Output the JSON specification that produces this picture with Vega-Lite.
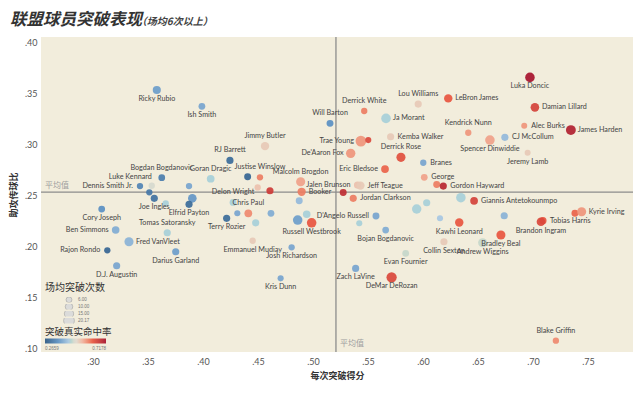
{
  "$schema": "https://vega.github.io/schema/vega-lite/v6.json",
  "width": 592,
  "height": 315,
  "autosize": {"type": "none"},
  "padding": {"left": 41, "top": 37, "right": 7, "bottom": 41},
  "background": "#ffffff",
  "config": {
    "view": {"fill": "#f2eddc", "stroke": null},
    "axis": {"grid": false, "domain": false, "ticks": false, "labelFont": "Lato", "labelFontSize": 9, "labelColor": "#555555", "titleFont": "Noto Sans CJK SC", "titleFontSize": 9, "titleFontWeight": "bold", "titleColor": "#333333"},
    "axisX": {"labelPadding": 5, "titlePadding": 5},
    "axisY": {"labelPadding": 4, "titlePadding": 6}
  },
  "title": {
    "text": "联盟球员突破表现",
    "subtitle": "\u200b\u3000\u3000\u3000\u3000\u3000\u3000\u3000\u3000\u3000\u3000\u3000\u3000\u00a0\u00a0\u00a0（场均6次以上）",
    "anchor": "start",
    "frame": "group",
    "dx": -31,
    "offset": 8,
    "font": "Noto Sans CJK SC",
    "fontSize": 16.5,
    "fontWeight": "bold",
    "fontStyle": "italic",
    "color": "#333333",
    "subtitleFont": "Noto Sans CJK SC",
    "subtitleFontSize": 10,
    "subtitleFontWeight": "bold",
    "subtitleFontStyle": "italic",
    "subtitleColor": "#444444",
    "subtitlePadding": -11
  },
  "datasets": {
    "refs": [
      {"kind": "h", "x": 0.2527, "y": 0.2529, "label": "平均值"},
      {"kind": "v", "x": 0.5209, "y": 0.0985, "label": "平均值"}
    ],
    "players": [
      {"name": "Tobias Harris", "x": 0.7091, "y": 0.2249, "drives": 9, "ts": 0.62, "side": "right"},
      {"name": "Ricky Rubio", "x": 0.358, "y": 0.353, "drives": 11.5, "ts": 0.38, "side": "below"},
      {"name": "Ish Smith", "x": 0.399, "y": 0.337, "drives": 8, "ts": 0.39, "side": "below"},
      {"name": "RJ Barrett", "x": 0.4245, "y": 0.284, "drives": 9, "ts": 0.3, "side": "above"},
      {"name": "Goran Dragic", "x": 0.407, "y": 0.266, "drives": 10.5, "ts": 0.45, "side": "above"},
      {"name": "Bogdan Bogdanovic", "x": 0.3625, "y": 0.267, "drives": 8, "ts": 0.33, "side": "above"},
      {"name": "Dennis Smith Jr.", "x": 0.3427, "y": 0.2588, "drives": 7, "ts": 0.34, "side": "left"},
      {"name": "Luke Kennard", "x": 0.3534, "y": 0.2591, "drives": 7, "ts": 0.48, "side": "aboveleft"},
      {"name": "", "x": 0.3873, "y": 0.2588, "drives": 7, "ts": 0.39, "side": "none"},
      {"name": "", "x": 0.3512, "y": 0.2527, "drives": 7, "ts": 0.32, "side": "none"},
      {"name": "Joe Ingles", "x": 0.3557, "y": 0.2468, "drives": 9, "ts": 0.31, "side": "below"},
      {"name": "", "x": 0.3661, "y": 0.2419, "drives": 7, "ts": 0.45, "side": "none"},
      {"name": "", "x": 0.3903, "y": 0.2468, "drives": 13, "ts": 0.37, "side": "none"},
      {"name": "Elfrid Payton", "x": 0.3873, "y": 0.2409, "drives": 9, "ts": 0.3, "side": "below"},
      {"name": "Cory Joseph", "x": 0.3079, "y": 0.2363, "drives": 8, "ts": 0.36, "side": "below"},
      {"name": "Ben Simmons", "x": 0.3206, "y": 0.2157, "drives": 10, "ts": 0.4, "side": "left"},
      {"name": "Tomas Satoransky", "x": 0.3675, "y": 0.213, "drives": 9, "ts": 0.45, "side": "above"},
      {"name": "Fred VanVleet", "x": 0.3327, "y": 0.2042, "drives": 14.5, "ts": 0.41, "side": "right"},
      {"name": "Rajon Rondo", "x": 0.313, "y": 0.1958, "drives": 7, "ts": 0.29, "side": "left"},
      {"name": "Darius Garland", "x": 0.3752, "y": 0.1944, "drives": 9, "ts": 0.38, "side": "below"},
      {"name": "D.J. Augustin", "x": 0.3215, "y": 0.1807, "drives": 9, "ts": 0.39, "side": "below"},
      {"name": "Terry Rozier", "x": 0.4215, "y": 0.2272, "drives": 9, "ts": 0.3, "side": "below"},
      {"name": "Delon Wright", "x": 0.4273, "y": 0.2428, "drives": 8, "ts": 0.45, "side": "above"},
      {"name": "", "x": 0.4312, "y": 0.2321, "drives": 6.5, "ts": 0.39, "side": "none"},
      {"name": "Jimmy Butler", "x": 0.4564, "y": 0.298, "drives": 12.5, "ts": 0.52, "side": "above"},
      {"name": "", "x": 0.4406, "y": 0.2679, "drives": 8.5, "ts": 0.29, "side": "none"},
      {"name": "Justise Winslow", "x": 0.4518, "y": 0.2674, "drives": 7, "ts": 0.59, "side": "above"},
      {"name": "", "x": 0.4497, "y": 0.2575, "drives": 7, "ts": 0.53, "side": "none"},
      {"name": "", "x": 0.4609, "y": 0.2542, "drives": 9, "ts": 0.66, "side": "none"},
      {"name": "Malcolm Brogdon", "x": 0.4888, "y": 0.263, "drives": 14.5, "ts": 0.56, "side": "above"},
      {"name": "Booker", "x": 0.4897, "y": 0.2532, "drives": 12, "ts": 0.59, "side": "right"},
      {"name": "Jalen Brunson", "x": 0.5405, "y": 0.2598, "drives": 9, "ts": 0.53, "side": "left"},
      {"name": "Jeff Teague", "x": 0.5432, "y": 0.2593, "drives": 12, "ts": 0.52, "side": "right"},
      {"name": "", "x": 0.5275, "y": 0.2526, "drives": 8.5, "ts": 0.68, "side": "none"},
      {"name": "Jordan Clarkson", "x": 0.5366, "y": 0.2468, "drives": 9, "ts": 0.59, "side": "right"},
      {"name": "Eric Bledsoe", "x": 0.5655, "y": 0.2755, "drives": 10.5, "ts": 0.61, "side": "left"},
      {"name": "Will Barton", "x": 0.5155, "y": 0.3203, "drives": 8.5, "ts": 0.36, "side": "above"},
      {"name": "Derrick White", "x": 0.5466, "y": 0.3324, "drives": 7, "ts": 0.59, "side": "above"},
      {"name": "Ja Morant", "x": 0.5664, "y": 0.3252, "drives": 16, "ts": 0.45, "side": "right"},
      {"name": "Trae Young", "x": 0.5436, "y": 0.3029, "drives": 20.17, "ts": 0.57, "side": "left"},
      {"name": "", "x": 0.5503, "y": 0.3039, "drives": 6.5, "ts": 0.64, "side": "none"},
      {"name": "Kemba Walker", "x": 0.5706, "y": 0.3072, "drives": 9, "ts": 0.52, "side": "right"},
      {"name": "De'Aaron Fox", "x": 0.5343, "y": 0.2909, "drives": 15.5, "ts": 0.57, "side": "left"},
      {"name": "Derrick Rose", "x": 0.58, "y": 0.287, "drives": 14.5, "ts": 0.63, "side": "above"},
      {"name": "Branes", "x": 0.6003, "y": 0.2817, "drives": 7, "ts": 0.39, "side": "right"},
      {"name": "George", "x": 0.6012, "y": 0.2674, "drives": 8, "ts": 0.56, "side": "right"},
      {"name": "", "x": 0.6125, "y": 0.2603, "drives": 8.5, "ts": 0.59, "side": "none"},
      {"name": "Gordon Hayward", "x": 0.6185, "y": 0.2588, "drives": 9, "ts": 0.69, "side": "right"},
      {"name": "D'Angelo Russell", "x": 0.5573, "y": 0.2294, "drives": 8.5, "ts": 0.39, "side": "left"},
      {"name": "", "x": 0.5421, "y": 0.2223, "drives": 6.5, "ts": 0.45, "side": "none"},
      {"name": "Bojan Bogdanovic", "x": 0.5661, "y": 0.2157, "drives": 8, "ts": 0.4, "side": "below"},
      {"name": "Evan Fournier", "x": 0.5843, "y": 0.1928, "drives": 8, "ts": 0.47, "side": "below"},
      {"name": "Zach LaVine", "x": 0.5388, "y": 0.1781, "drives": 9, "ts": 0.39, "side": "below"},
      {"name": "DeMar DeRozan", "x": 0.5715, "y": 0.1693, "drives": 18.5, "ts": 0.64, "side": "below"},
      {"name": "Kris Dunn", "x": 0.4706, "y": 0.1683, "drives": 6.5, "ts": 0.39, "side": "below"},
      {"name": "Emmanuel Mudiay", "x": 0.4452, "y": 0.2052, "drives": 7, "ts": 0.52, "side": "below"},
      {"name": "Josh Richardson", "x": 0.4806, "y": 0.1987, "drives": 7, "ts": 0.39, "side": "below"},
      {"name": "Chris Paul", "x": 0.4412, "y": 0.2321, "drives": 10.5, "ts": 0.58, "side": "above"},
      {"name": "", "x": 0.4479, "y": 0.2228, "drives": 9, "ts": 0.45, "side": "none"},
      {"name": "", "x": 0.4618, "y": 0.2321, "drives": 8, "ts": 0.4, "side": "none"},
      {"name": "", "x": 0.4875, "y": 0.2444, "drives": 8.5, "ts": 0.42, "side": "none"},
      {"name": "", "x": 0.4943, "y": 0.2311, "drives": 10, "ts": 0.45, "side": "none"},
      {"name": "", "x": 0.4861, "y": 0.2255, "drives": 16, "ts": 0.38, "side": "none"},
      {"name": "Russell Westbrook", "x": 0.4988, "y": 0.2228, "drives": 16, "ts": 0.62, "side": "below"},
      {"name": "", "x": 0.5943, "y": 0.2363, "drives": 15.5, "ts": 0.45, "side": "none"},
      {"name": "", "x": 0.6034, "y": 0.2425, "drives": 9, "ts": 0.45, "side": "none"},
      {"name": "", "x": 0.6155, "y": 0.2272, "drives": 6.5, "ts": 0.44, "side": "none"},
      {"name": "Kawhi Leonard", "x": 0.633, "y": 0.223, "drives": 12.5, "ts": 0.62, "side": "below"},
      {"name": "", "x": 0.6345, "y": 0.2474, "drives": 16, "ts": 0.45, "side": "none"},
      {"name": "Giannis Antetokounmpo", "x": 0.6465, "y": 0.2443, "drives": 10.5, "ts": 0.65, "side": "right"},
      {"name": "Lou Williams", "x": 0.5957, "y": 0.3392, "drives": 9, "ts": 0.52, "side": "above"},
      {"name": "LeBron James", "x": 0.623, "y": 0.3448, "drives": 12.5, "ts": 0.62, "side": "right"},
      {"name": "Luka Doncic", "x": 0.6973, "y": 0.3654, "drives": 16, "ts": 0.715, "side": "below"},
      {"name": "Damian Lillard", "x": 0.7018, "y": 0.336, "drives": 13, "ts": 0.65, "side": "right"},
      {"name": "Kendrick Nunn", "x": 0.6412, "y": 0.3111, "drives": 7, "ts": 0.57, "side": "above"},
      {"name": "Alec Burks", "x": 0.6921, "y": 0.3179, "drives": 6.3, "ts": 0.57, "side": "right"},
      {"name": "James Harden", "x": 0.7345, "y": 0.3137, "drives": 17, "ts": 0.7, "side": "right"},
      {"name": "CJ McCollum", "x": 0.6745, "y": 0.3066, "drives": 9, "ts": 0.42, "side": "right"},
      {"name": "Spencer Dinwiddie", "x": 0.6609, "y": 0.3039, "drives": 16, "ts": 0.56, "side": "below"},
      {"name": "Jeremy Lamb", "x": 0.6952, "y": 0.2915, "drives": 6.3, "ts": 0.52, "side": "below"},
      {"name": "", "x": 0.6739, "y": 0.2297, "drives": 9, "ts": 0.41, "side": "none"},
      {"name": "Brandon Ingram", "x": 0.7073, "y": 0.2238, "drives": 13, "ts": 0.64, "side": "below"},
      {"name": "", "x": 0.7382, "y": 0.2321, "drives": 8.5, "ts": 0.61, "side": "none"},
      {"name": "Kyrie Irving", "x": 0.7443, "y": 0.2336, "drives": 14.5, "ts": 0.57, "side": "right"},
      {"name": "Bradley Beal", "x": 0.6709, "y": 0.2108, "drives": 14.5, "ts": 0.62, "side": "below"},
      {"name": "Andrew Wiggins", "x": 0.6543, "y": 0.2032, "drives": 14.5, "ts": 0.47, "side": "below"},
      {"name": "Collin Sexton", "x": 0.6191, "y": 0.2042, "drives": 9, "ts": 0.52, "side": "below"},
      {"name": "Blake Griffin", "x": 0.7209, "y": 0.1072, "drives": 7, "ts": 0.58, "side": "above"}
    ]
  },
  "layer": [
    {
      "data": {"name": "refs"},
      "transform": [{"filter": "datum.kind == 'h'"}],
      "mark": {"type": "rule", "color": "#8c8c8c", "strokeWidth": 1.3},
      "encoding": {
        "y": {"field": "y", "type": "quantitative", "scale": {"domain": [0.0961, 0.405], "nice": false, "zero": false}, "axis": {"values": [0.1, 0.15, 0.2, 0.25, 0.3, 0.35, 0.4], "labelExpr": "replace(format(datum.value, '.2f'), '0.', '.')", "title": "助攻传球比"}}
      }
    },
    {
      "data": {"name": "refs"},
      "transform": [{"filter": "datum.kind == 'v'"}],
      "mark": {"type": "rule", "color": "#8c8c8c", "strokeWidth": 1.3},
      "encoding": {
        "x": {"field": "x", "type": "quantitative", "scale": {"domain": [0.2527, 0.791], "nice": false, "zero": false}, "axis": {"values": [0.3, 0.35, 0.4, 0.45, 0.5, 0.55, 0.6, 0.65, 0.7, 0.75], "labelExpr": "replace(format(datum.value, '.2f'), '0.', '.')", "title": "每次突破得分"}}
      }
    },
    {
      "data": {"name": "refs"},
      "mark": {"type": "text", "align": "left", "baseline": "bottom", "dx": 4, "dy": -2, "fontSize": 8, "font": "Noto Sans CJK SC", "fill": "#a0a0a0"},
      "encoding": {
        "x": {"field": "x", "type": "quantitative", "scale": {"domain": [0.2527, 0.791], "nice": false, "zero": false}, "axis": {"values": [0.3, 0.35, 0.4, 0.45, 0.5, 0.55, 0.6, 0.65, 0.7, 0.75], "labelExpr": "replace(format(datum.value, '.2f'), '0.', '.')", "title": "每次突破得分"}},
        "y": {"field": "y", "type": "quantitative", "scale": {"domain": [0.0961, 0.405], "nice": false, "zero": false}, "axis": {"values": [0.1, 0.15, 0.2, 0.25, 0.3, 0.35, 0.4], "labelExpr": "replace(format(datum.value, '.2f'), '0.', '.')", "title": "助攻传球比"}},
        "text": {"field": "label"}
      }
    },
    {
      "data": {"name": "players"},
      "mark": {"type": "circle", "opacity": 0.92},
      "encoding": {
        "x": {"field": "x", "type": "quantitative", "scale": {"domain": [0.2527, 0.791], "nice": false, "zero": false}, "axis": {"values": [0.3, 0.35, 0.4, 0.45, 0.5, 0.55, 0.6, 0.65, 0.7, 0.75], "labelExpr": "replace(format(datum.value, '.2f'), '0.', '.')", "title": "每次突破得分"}},
        "y": {"field": "y", "type": "quantitative", "scale": {"domain": [0.0961, 0.405], "nice": false, "zero": false}, "axis": {"values": [0.1, 0.15, 0.2, 0.25, 0.3, 0.35, 0.4], "labelExpr": "replace(format(datum.value, '.2f'), '0.', '.')", "title": "助攻传球比"}},
        "size": {
          "field": "drives", "type": "quantitative",
          "scale": {"domain": [0, 20.17], "range": [0, 115]},
          "legend": {
            "title": "场均突破次数", "values": [6, 10, 15, 20.17], "format": ".2f",
            "orient": "none", "legendX": 4, "legendY": 246,
            "symbolOffset": 18, "symbolFillColor": "#dadada", "symbolStrokeColor": "#9a9a9a", "symbolStrokeWidth": 0.6,
            "clipHeight": 5.5, "rowPadding": 0,
            "labelFontSize": 4.5, "labelColor": "#777777", "labelOffset": 3,
            "titleFontSize": 10, "titleFont": "Noto Sans CJK SC", "titleFontWeight": "normal", "titleColor": "#333333", "titlePadding": 4,
            "encode": {"symbols": {"update": {"size": {"scale": "size", "field": "value", "mult": 0.2}, "fill": {"value": "#dadada"}, "stroke": {"value": "#9a9a9a"}}}}
          }
        },
        "color": {
          "field": "ts", "type": "quantitative",
          "scale": {"domain": [0.2659, 0.36, 0.44, 0.4918, 0.54, 0.62, 0.7178], "range": ["#2a5783", "#5a8fc2", "#a7c7e2", "#e0dedb", "#f0b7a4", "#e8553f", "#a50f2b"]},
          "legend": {
            "title": "突破真实命中率", "orient": "none", "legendX": 4, "legendY": 290,
            "direction": "horizontal", "gradientLength": 61, "gradientThickness": 5,
            "values": [0.2659, 0.7178], "format": ".4f",
            "labelFontSize": 4.5, "labelColor": "#777777", "labelOffset": 2,
            "titleFontSize": 9.5, "titleFont": "Noto Sans CJK SC", "titleFontWeight": "normal", "titleColor": "#333333", "titlePadding": 2
          }
        }
      }
    },
    {
      "data": {"name": "players"},
      "transform": [{"filter": "datum.side == 'below'"}],
      "mark": {"type": "text", "dy": 9, "fontSize": 7.2, "font": "Lato", "fill": "#444444", "baseline": "middle", "align": "center"},
      "encoding": {
        "x": {"field": "x", "type": "quantitative", "scale": {"domain": [0.2527, 0.791], "nice": false, "zero": false}, "axis": {"values": [0.3, 0.35, 0.4, 0.45, 0.5, 0.55, 0.6, 0.65, 0.7, 0.75], "labelExpr": "replace(format(datum.value, '.2f'), '0.', '.')", "title": "每次突破得分"}},
        "y": {"field": "y", "type": "quantitative", "scale": {"domain": [0.0961, 0.405], "nice": false, "zero": false}, "axis": {"values": [0.1, 0.15, 0.2, 0.25, 0.3, 0.35, 0.4], "labelExpr": "replace(format(datum.value, '.2f'), '0.', '.')", "title": "助攻传球比"}},
        "text": {"field": "name"}
      }
    },
    {
      "data": {"name": "players"},
      "transform": [{"filter": "datum.side == 'above'"}],
      "mark": {"type": "text", "dy": -10, "fontSize": 7.2, "font": "Lato", "fill": "#444444", "baseline": "middle", "align": "center"},
      "encoding": {
        "x": {"field": "x", "type": "quantitative", "scale": {"domain": [0.2527, 0.791], "nice": false, "zero": false}, "axis": {"values": [0.3, 0.35, 0.4, 0.45, 0.5, 0.55, 0.6, 0.65, 0.7, 0.75], "labelExpr": "replace(format(datum.value, '.2f'), '0.', '.')", "title": "每次突破得分"}},
        "y": {"field": "y", "type": "quantitative", "scale": {"domain": [0.0961, 0.405], "nice": false, "zero": false}, "axis": {"values": [0.1, 0.15, 0.2, 0.25, 0.3, 0.35, 0.4], "labelExpr": "replace(format(datum.value, '.2f'), '0.', '.')", "title": "助攻传球比"}},
        "text": {"field": "name"}
      }
    },
    {
      "data": {"name": "players"},
      "transform": [{"filter": "datum.side == 'right'"}],
      "mark": {"type": "text", "dx": 7, "fontSize": 7.2, "font": "Lato", "fill": "#444444", "baseline": "middle", "align": "left"},
      "encoding": {
        "x": {"field": "x", "type": "quantitative", "scale": {"domain": [0.2527, 0.791], "nice": false, "zero": false}, "axis": {"values": [0.3, 0.35, 0.4, 0.45, 0.5, 0.55, 0.6, 0.65, 0.7, 0.75], "labelExpr": "replace(format(datum.value, '.2f'), '0.', '.')", "title": "每次突破得分"}},
        "y": {"field": "y", "type": "quantitative", "scale": {"domain": [0.0961, 0.405], "nice": false, "zero": false}, "axis": {"values": [0.1, 0.15, 0.2, 0.25, 0.3, 0.35, 0.4], "labelExpr": "replace(format(datum.value, '.2f'), '0.', '.')", "title": "助攻传球比"}},
        "text": {"field": "name"}
      }
    },
    {
      "data": {"name": "players"},
      "transform": [{"filter": "datum.side == 'left'"}],
      "mark": {"type": "text", "dx": -7, "fontSize": 7.2, "font": "Lato", "fill": "#444444", "baseline": "middle", "align": "right"},
      "encoding": {
        "x": {"field": "x", "type": "quantitative", "scale": {"domain": [0.2527, 0.791], "nice": false, "zero": false}, "axis": {"values": [0.3, 0.35, 0.4, 0.45, 0.5, 0.55, 0.6, 0.65, 0.7, 0.75], "labelExpr": "replace(format(datum.value, '.2f'), '0.', '.')", "title": "每次突破得分"}},
        "y": {"field": "y", "type": "quantitative", "scale": {"domain": [0.0961, 0.405], "nice": false, "zero": false}, "axis": {"values": [0.1, 0.15, 0.2, 0.25, 0.3, 0.35, 0.4], "labelExpr": "replace(format(datum.value, '.2f'), '0.', '.')", "title": "助攻传球比"}},
        "text": {"field": "name"}
      }
    },
    {
      "data": {"name": "players"},
      "transform": [{"filter": "datum.side == 'aboveleft'"}],
      "mark": {"type": "text", "dx": 0, "dy": -9, "fontSize": 7.2, "font": "Lato", "fill": "#444444", "baseline": "middle", "align": "right"},
      "encoding": {
        "x": {"field": "x", "type": "quantitative", "scale": {"domain": [0.2527, 0.791], "nice": false, "zero": false}, "axis": {"values": [0.3, 0.35, 0.4, 0.45, 0.5, 0.55, 0.6, 0.65, 0.7, 0.75], "labelExpr": "replace(format(datum.value, '.2f'), '0.', '.')", "title": "每次突破得分"}},
        "y": {"field": "y", "type": "quantitative", "scale": {"domain": [0.0961, 0.405], "nice": false, "zero": false}, "axis": {"values": [0.1, 0.15, 0.2, 0.25, 0.3, 0.35, 0.4], "labelExpr": "replace(format(datum.value, '.2f'), '0.', '.')", "title": "助攻传球比"}},
        "text": {"field": "name"}
      }
    }
  ]
}
